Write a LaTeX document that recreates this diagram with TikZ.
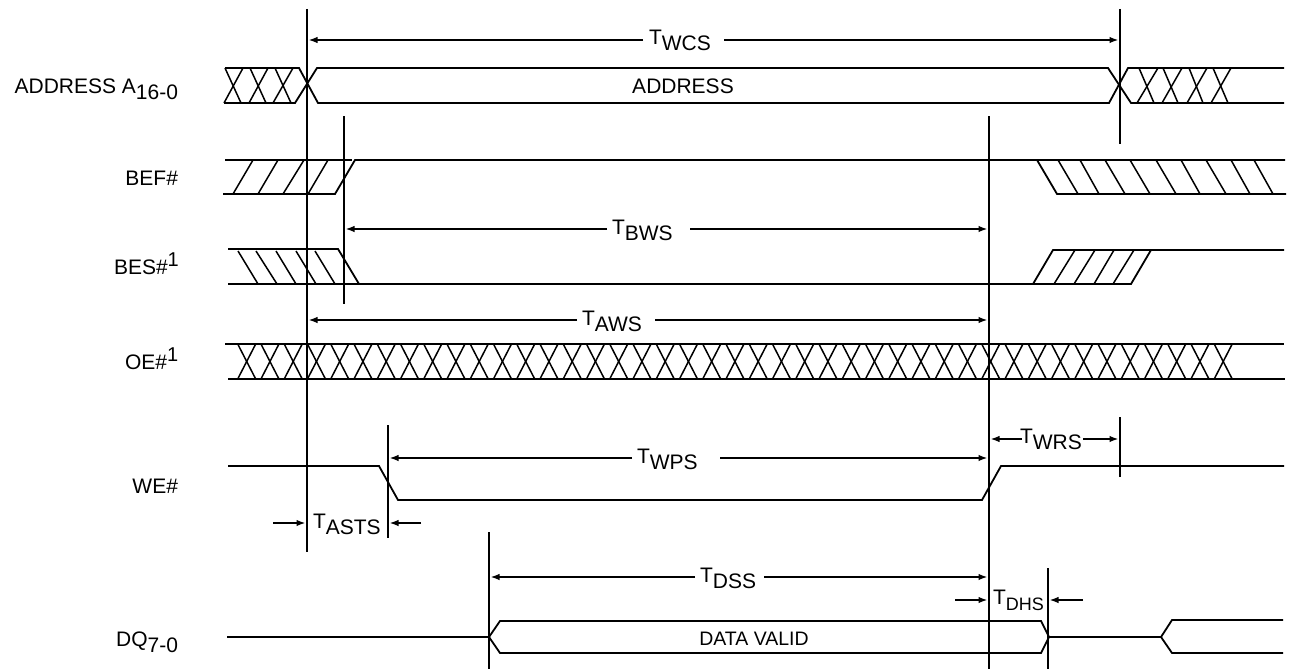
\documentclass[tikz,border=0pt]{standalone}
\usepackage{fontspec}
\setmainfont{Liberation Sans}
\usetikzlibrary{arrows.meta}
\newcommand{\lowtxt}[1]{\raisebox{-6pt}{#1}}
\newcommand{\hightxt}[1]{\raisebox{8pt}{\fontsize{20}{24}\selectfont #1}}
\tikzset{
  wave/.style={line width=1.8pt,line join=miter},
  hatch/.style={line width=1.5pt},
  mark line/.style={line width=1.9pt},
  dim/.style={line width=1.6pt,-{Latex[length=9pt,width=6.5pt]}},
  lab/.style={font=\fontsize{21}{25}\selectfont,anchor=base east,inner sep=0pt,outer sep=0pt},
  tim/.style={font=\fontsize{21}{25}\selectfont,anchor=base west,inner sep=0pt,outer sep=0pt},
}
\begin{document}
\begin{tikzpicture}[x=1pt,y=-1pt]
\useasboundingbox (0,0) rectangle (1289,669);
% --- ADDRESS row
\draw[wave] (225,68) -- (299,68) -- (318,103) -- (1109,103) -- (1128,68) -- (1284,68);
\draw[wave] (224,103) -- (295,103) -- (317,68) -- (1108,68) -- (1131,103) -- (1284,103);
\foreach \a/\b in {225/241,250/266,275/291,1139/1154,1163/1178,1189/1203,1213/1228}
  \draw[hatch] (\a,68) -- (\b,103);
\foreach \a/\b in {243/224,268/249,293/273,1158/1137,1182/1162,1207/1187,1231/1211}
  \draw[hatch] (\a,68) -- (\b,103);
% --- BEF# row
\draw[wave] (225,160) -- (352,160);
\draw[wave] (223,194) -- (335,194) -- (355,160) -- (1285,160);
\draw[wave] (1037,160) -- (1057,194) -- (1286,194);
\foreach \a/\b in {233/253,258/278,283/304,308/328}
  \draw[hatch] (\a,194) -- (\b,160);
\foreach \a/\b in {1058/1078,1080/1099,1105/1125,1130/1150,1156/1176,1181/1200,1206/1226,1231/1250,1254/1273}
  \draw[hatch] (\a,160) -- (\b,194);
% --- BES# row
\draw[wave] (228,249) -- (338,249) -- (359,284);
\draw[wave] (228,284) -- (1131,284) -- (1151,250);
\draw[wave] (1033,284) -- (1053,250) -- (1284,250);
\foreach \a/\b in {238/258,256/277,276/296,296/316,315/335}
  \draw[hatch] (\a,251) -- (\b,284);
\foreach \a/\b in {1054/1075,1074/1095,1094/1114,1113/1134}
  \draw[hatch] (\a,284) -- (\b,250);
% --- OE# row
\draw[wave] (225,344) -- (1284,344);
\draw[wave] (228,379) -- (1285,379);
\foreach \k in {0,...,42}{
  \pgfmathsetmacro{\cx}{246.7+23.25*\k}
  \draw[hatch] (\cx-9,344) -- (\cx+9,379);
  \draw[hatch] (\cx+9,344) -- (\cx-9,379);
}
% --- WE# row
\draw[wave] (228,466) -- (379,466) -- (398,500) -- (982,500) -- (1001,466) -- (1284,466);
% --- DQ row
\draw[wave] (227,637) -- (489,637) -- (500,621) -- (1041,621) -- (1049,637) -- (1161,637) -- (1172,620) -- (1283,620);
\draw[wave] (489,637) -- (500,653) -- (1041,653) -- (1049,637);
\draw[wave] (1161,637) -- (1172,653) -- (1283,653);
% --- timing reference lines
\draw[mark line] (307,9) -- (307,552);
\draw[mark line] (1120,9) -- (1120,144);
\draw[mark line] (344,116) -- (344,304);
\draw[mark line] (989,116) -- (989,669);
\draw[mark line] (388,425) -- (388,538);
\draw[mark line] (489,532) -- (489,669);
\draw[mark line] (1120,417) -- (1120,477);
\draw[mark line] (1048,568) -- (1048,669);
% --- timing labels with dimension arrows
\node[tim] (twcs) at (649,45) {T\lowtxt{WCS}};
\draw[dim] (643,40) -- (308.5,40);
\draw[dim] (724,40) -- (1118.5,40);
\node[tim] (tbws) at (612,234) {T\lowtxt{BWS}};
\draw[dim] (607,229) -- (345.5,229);
\draw[dim] (690,229) -- (987.5,229);
\node[tim] (taws) at (582,325) {T\lowtxt{AWS}};
\draw[dim] (577,320) -- (308.5,320);
\draw[dim] (655,320) -- (987.5,320);
\node[tim] (twps) at (637,463) {T\lowtxt{WPS}};
\draw[dim] (632,458) -- (389.5,458);
\draw[dim] (720,458) -- (987.5,458);
\node[tim] (twrs) at (1020,443) {T\lowtxt{WRS}};
\draw[dim] (1022,439) -- (990.5,439);
\draw[dim] (1083,439) -- (1118.5,439);
\node[tim] (tasts) at (313,528) {T\lowtxt{ASTS}};
\draw[dim] (273,523) -- (305.5,523);
\draw[dim] (421,523) -- (389.5,523);
\node[tim] (tdss) at (700,582) {T\lowtxt{DSS}};
\draw[dim] (695,577) -- (490.5,577);
\draw[dim] (764,577) -- (987.5,577);
\node[tim] (tdhs) at (993,604) {T\lowtxt{\fontsize{18}{22}\selectfont DHS}};
\draw[dim] (955,600) -- (987.5,600);
\draw[dim] (1083,600) -- (1049.5,600);
% --- bus text
\node[font=\fontsize{21}{25}\selectfont,inner sep=0pt,anchor=base] (addr) at (683,93) {ADDRESS};
\node[font=\fontsize{19.5}{23}\selectfont,inner sep=0pt,anchor=base] (data) at (754,645) {DATA VALID};
% --- signal names
\node[lab] (l1) at (178,93) {ADDRESS A\lowtxt{16-0}};
\node[lab] (l2) at (178,185) {BEF\#};
\node[lab,anchor=base west] (l3) at (114,274) {BES\#\hightxt{1}};
\node[lab,anchor=base west] (l4) at (125,369) {OE\#\hightxt{1}};
\node[lab] (l5) at (178,493) {WE\#};
\node[lab] (l6) at (178,646) {DQ\lowtxt{7-0}};
\end{tikzpicture}
\end{document}
